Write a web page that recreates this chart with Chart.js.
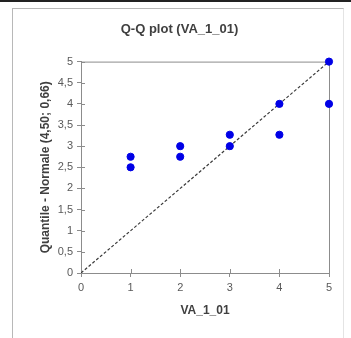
<!DOCTYPE html>
<html>
<head>
<meta charset="utf-8">
<script src="https://cdn.jsdelivr.net/npm/chart.js@4"></script>
<style>
  html, body { margin: 0; padding: 0; background: #fff; }
  body { width: 351px; height: 338px; position: relative; overflow: hidden; }
  .topline { position: absolute; left: 0; top: 0; width: 351px; height: 2px; background: #222; }
  .frame {
    position: absolute; left: 12px; top: 8px; width: 330px; height: 340px;
    border: 1px solid #b8b8b8; border-right-color: #e4e4e4; pointer-events: none;
  }
  #wrap { position: absolute; left: 0; top: 0; width: 351px; height: 338px; }
</style>
</head>
<body>
<div class="topline"></div>
<div class="frame"></div>
<div id="wrap"><canvas id="qq"></canvas></div>
<script>
// observed values (x) vs normal quantiles (y)
const observed = [1, 1, 2, 2, 3, 3, 4, 4, 5, 5];
const normalQuantiles = [2.75, 2.5, 3, 2.75, 3.27, 3, 4, 3.27, 5, 4];
const refLine = [0, 5];

const titleText = 'Q-Q plot (VA_1_01)';
const xTitle = 'VA_1_01';
const yTitle = 'Quantile - Normale (4,50; 0,66)';

const axisColor = '#8c8c8c';
const textColor = '#404040';
const tickColor = '#595959';
const font = 'Liberation Sans';

const points = observed.map((x, i) => ({ x: x, y: normalQuantiles[i] }));
const diag = refLine.map(v => ({ x: v, y: v }));

const commaFmt = v => String(v).replace('.', ',');

// plot frame + inner tick halves (ticks cross the axis like in the original)
const framePlugin = {
  id: 'plotFrame',
  beforeDatasetsDraw(chart) {
    const { ctx, chartArea: a, scales } = chart;
    ctx.save();
    ctx.strokeStyle = axisColor;
    ctx.lineWidth = 1;
    ctx.beginPath();
    ctx.moveTo(a.left + 0.5, a.top + 0.5);
    ctx.lineTo(a.right + 0.5, a.top + 0.5);
    ctx.lineTo(a.right + 0.5, a.bottom + 0.5);
    ctx.stroke();
    scales.y.ticks.forEach(t => {
      const py = Math.round(scales.y.getPixelForValue(t.value)) + 0.5;
      ctx.beginPath(); ctx.moveTo(a.left, py); ctx.lineTo(a.left + 4, py); ctx.stroke();
    });
    scales.x.ticks.forEach(t => {
      const px = Math.round(scales.x.getPixelForValue(t.value)) + 0.5;
      ctx.beginPath(); ctx.moveTo(px, a.bottom); ctx.lineTo(px, a.bottom - 4); ctx.stroke();
    });
    ctx.restore();
  }
};

new Chart(document.getElementById('qq'), {
  type: 'scatter',
  data: {
    datasets: [
      {
        type: 'line',
        data: diag,
        borderColor: '#3a3a3a',
        borderWidth: 1.2,
        borderDash: [3, 2],
        pointRadius: 0,
        fill: false,
        order: 2
      },
      {
        data: points,
        backgroundColor: '#0000e6',
        borderColor: '#0000e6',
        pointRadius: 3.6,
        pointHoverRadius: 3.6,
        clip: false,
        order: 1
      }
    ]
  },
  options: {
    responsive: true,
    maintainAspectRatio: false,
    animation: false,
    events: [],
    layout: { padding: { left: 30, right: 22, top: 22, bottom: 20 } },
    plugins: {
      legend: { display: false },
      tooltip: { enabled: false },
      title: {
        display: true,
        text: titleText,
        color: textColor,
        font: { family: font, size: 13, weight: 'bold' },
        padding: { top: 0, bottom: 24 }
      }
    },
    scales: {
      x: {
        type: 'linear',
        min: 0, max: 5,
        ticks: { stepSize: 1, color: tickColor, padding: 4, font: { family: font, size: 11 }, callback: commaFmt },
        grid: { drawOnChartArea: false, color: axisColor, tickLength: 4 },
        border: { color: axisColor },
        title: { display: true, text: xTitle, color: textColor, font: { family: font, size: 12, weight: 'bold' }, padding: { top: 4, bottom: 0 } },
        afterFit(s) { s.height = 45; }
      },
      y: {
        type: 'linear',
        min: 0, max: 5,
        ticks: { stepSize: 0.5, color: tickColor, padding: 4, font: { family: font, size: 11 }, callback: commaFmt },
        grid: { drawOnChartArea: false, color: axisColor, tickLength: 4 },
        border: { color: axisColor },
        title: { display: true, text: yTitle, color: textColor, font: { family: font, size: 12, weight: 'bold' }, padding: { top: 8, bottom: 0 } },
        afterFit(s) { s.width = 51; }
      }
    }
  },
  plugins: [framePlugin]
});
</script>
</body>
</html>
